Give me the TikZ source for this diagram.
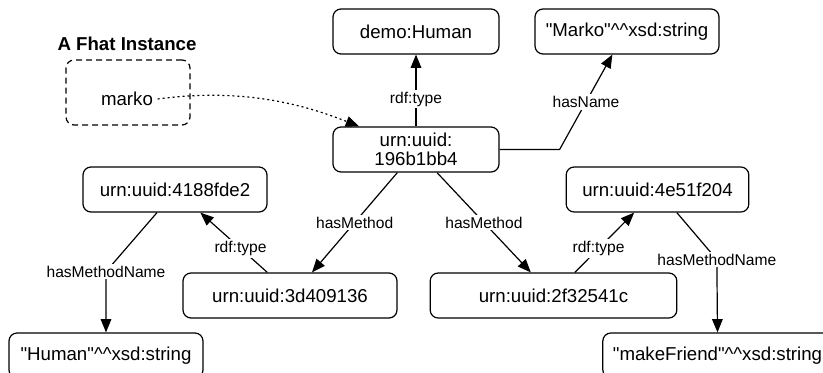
\documentclass[tikz,border=0pt]{standalone}
\usepackage{fontspec}
\setmainfont{Liberation Sans}
\usetikzlibrary{arrows.meta}

\begin{document}
\begin{tikzpicture}[x=0.75pt, y=-0.75pt,
	box/.style={shape=rectangle, draw=black, line width=0.9pt, rounded corners=6pt, minimum height=33.75pt, align=center, font=\fontsize{14}{14}\selectfont},
	lbl/.style={fill=white, inner sep=1.5pt, font=\fontsize{11.7}{13}\selectfont},
	rel/.style={-{Triangle[length=10pt, width=8pt]}, line width=0.9pt}]
	\clip (0,0) rectangle (823,372);

	\node[font=\bfseries\fontsize{14}{16}\selectfont]          (title) at (127,44)      {A Fhat Instance};
	\node[shape=rectangle, draw=black, line width=0.9pt, dash pattern=on 4.5pt off 3pt, rounded corners=6pt,
	      minimum width=93pt, minimum height=48.75pt]              (fhat)  at (128,92.5)    {};
	\node[font=\fontsize{14}{16}\selectfont]                    (marko) at (127,99)      {marko};

	\node[box, minimum width=124.5pt] (human)    at (416,31.5)    {demo:Human};
	\node[box, minimum width=138pt]   (markostr) at (627,31.5)    {\textquotedbl Marko\textquotedbl\^{}\^{}xsd:string};
	\node[box, minimum width=124.5pt] (uuid)     at (416,149.5)   {urn:uuid:\\196b1bb4};
	\node[box, minimum width=138pt]   (class1)   at (175,189.5)   {urn:uuid:4188fde2};
	\node[box, minimum width=137pt]   (class2)   at (657.5,189.5) {urn:uuid:4e51f204};
	\node[box, minimum width=160.5pt] (method1)  at (290,295.5)   {urn:uuid:3d409136};
	\node[box, minimum width=185pt]   (method2)  at (553.5,295.5) {urn:uuid:2f32541c};
	\node[box, minimum width=145.5pt] (humanstr) at (106,355.5)   {\textquotedbl Human\textquotedbl\^{}\^{}xsd:string};
	\node[box, minimum width=172pt]   (friendstr) at (717.5,355.5) {\textquotedbl makeFriend\textquotedbl\^{}\^{}xsd:string};

	\draw [rel, dash pattern=on 1.5pt off 2.25pt] (marko.east) .. controls (240,88) and (300,103) .. ([xshift=20pt]uuid.north west);

	\path [rel] (uuid.north) edge node[lbl, pos=0.38] {rdf:type} (human.south);
	\draw [rel] (uuid.east) -- ++(60,0) -- node[lbl] {hasName} ([xshift=-11pt]markostr.south);
	\path [rel] ([xshift=-14pt]uuid.south)   edge node[lbl] {hasMethod} ([xshift=16.5pt]method1.north);
	\path [rel] ([xshift=15.75pt]uuid.south) edge node[lbl] {hasMethod} ([xshift=-17pt]method2.north);
	\path [rel] ([xshift=-17pt]method1.north) edge node[lbl, pos=0.4] {rdf:type} ([xshift=19pt]class1.south);
	\path [rel] ([xshift=16pt]method2.north)  edge node[lbl, pos=0.4] {rdf:type} ([xshift=-17.5pt]class2.south);
	\draw [rel] ([xshift=-13.5pt]class1.south) -- ++(-51,59) node[lbl] {hasMethodName} -- (humanstr.north);
	\draw [rel] ([xshift=14.5pt]class2.south)  -- ++(40,47)  node[lbl] {hasMethodName} -- (friendstr.north);
\end{tikzpicture}
\end{document}
